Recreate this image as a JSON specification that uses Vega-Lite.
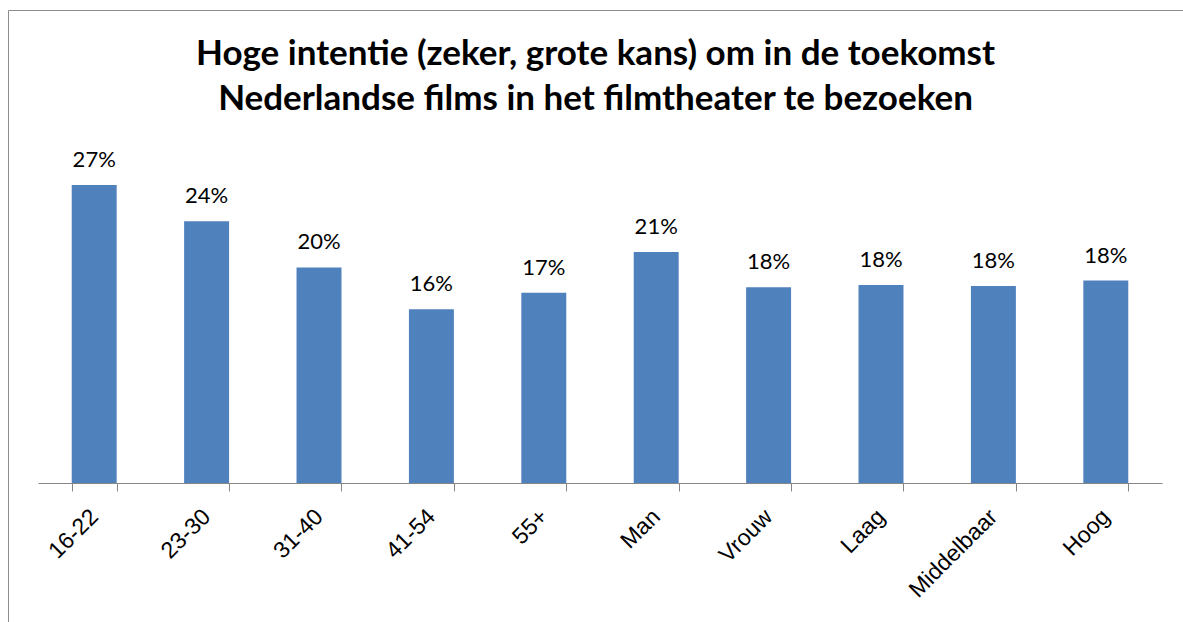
{
  "$schema": "https://vega.github.io/schema/vega-lite/v6.json",
  "width": 1175,
  "height": 612,
  "autosize": {"type": "none"},
  "padding": {"left": 8, "top": 10, "right": 0, "bottom": 0},
  "background": "white",
  "config": {"view": {"stroke": "#8c8c8c", "strokeWidth": 1}},
  "title": {
    "text": ["Hoge intentie (zeker, grote kans) om in de toekomst", "Nederlandse films in het filmtheater te bezoeken"],
    "font": "Lato",
    "fontSize": 35,
    "fontWeight": "bold",
    "color": "#000000",
    "anchor": "middle",
    "frame": "group",
    "orient": "top",
    "baseline": "top",
    "offset": -107,
    "lineHeight": 45
  },
  "data": {
    "values": [
      {"groep": "16-22", "pct": 0.271},
      {"groep": "23-30", "pct": 0.238},
      {"groep": "31-40", "pct": 0.196},
      {"groep": "41-54", "pct": 0.158},
      {"groep": "55+", "pct": 0.173},
      {"groep": "Man", "pct": 0.21},
      {"groep": "Vrouw", "pct": 0.178},
      {"groep": "Laag", "pct": 0.18},
      {"groep": "Middelbaar", "pct": 0.179},
      {"groep": "Hoog", "pct": 0.184}
    ]
  },
  "encoding": {
    "x": {
      "field": "groep",
      "type": "nominal",
      "sort": null,
      "scale": {"range": [30, 1154], "paddingInner": 0.6, "paddingOuter": 0.3},
      "axis": {
        "orient": "bottom",
        "offset": -139,
        "title": null,
        "labelAngle": -45,
        "labelFont": "Liberation Sans",
        "labelFontSize": 23,
        "labelColor": "#000000",
        "domainColor": "#868686",
        "tickColor": "#868686",
        "tickSize": 8,
        "tickBand": "extent",
        "grid": false,
        "labelPadding": 14,
        "labelOffset": -8
      }
    },
    "y": {
      "field": "pct",
      "type": "quantitative",
      "scale": {"domain": [0, 0.3], "range": [473, 143], "nice": false},
      "axis": null
    }
  },
  "layer": [
    {"mark": {"type": "bar", "color": "#4F81BD"}},
    {
      "mark": {"type": "text", "baseline": "alphabetic", "dy": -18, "font": "Lato", "fontSize": 22, "color": "#000000"},
      "encoding": {"text": {"field": "pct", "type": "quantitative", "format": ".0%"}}
    }
  ]
}
